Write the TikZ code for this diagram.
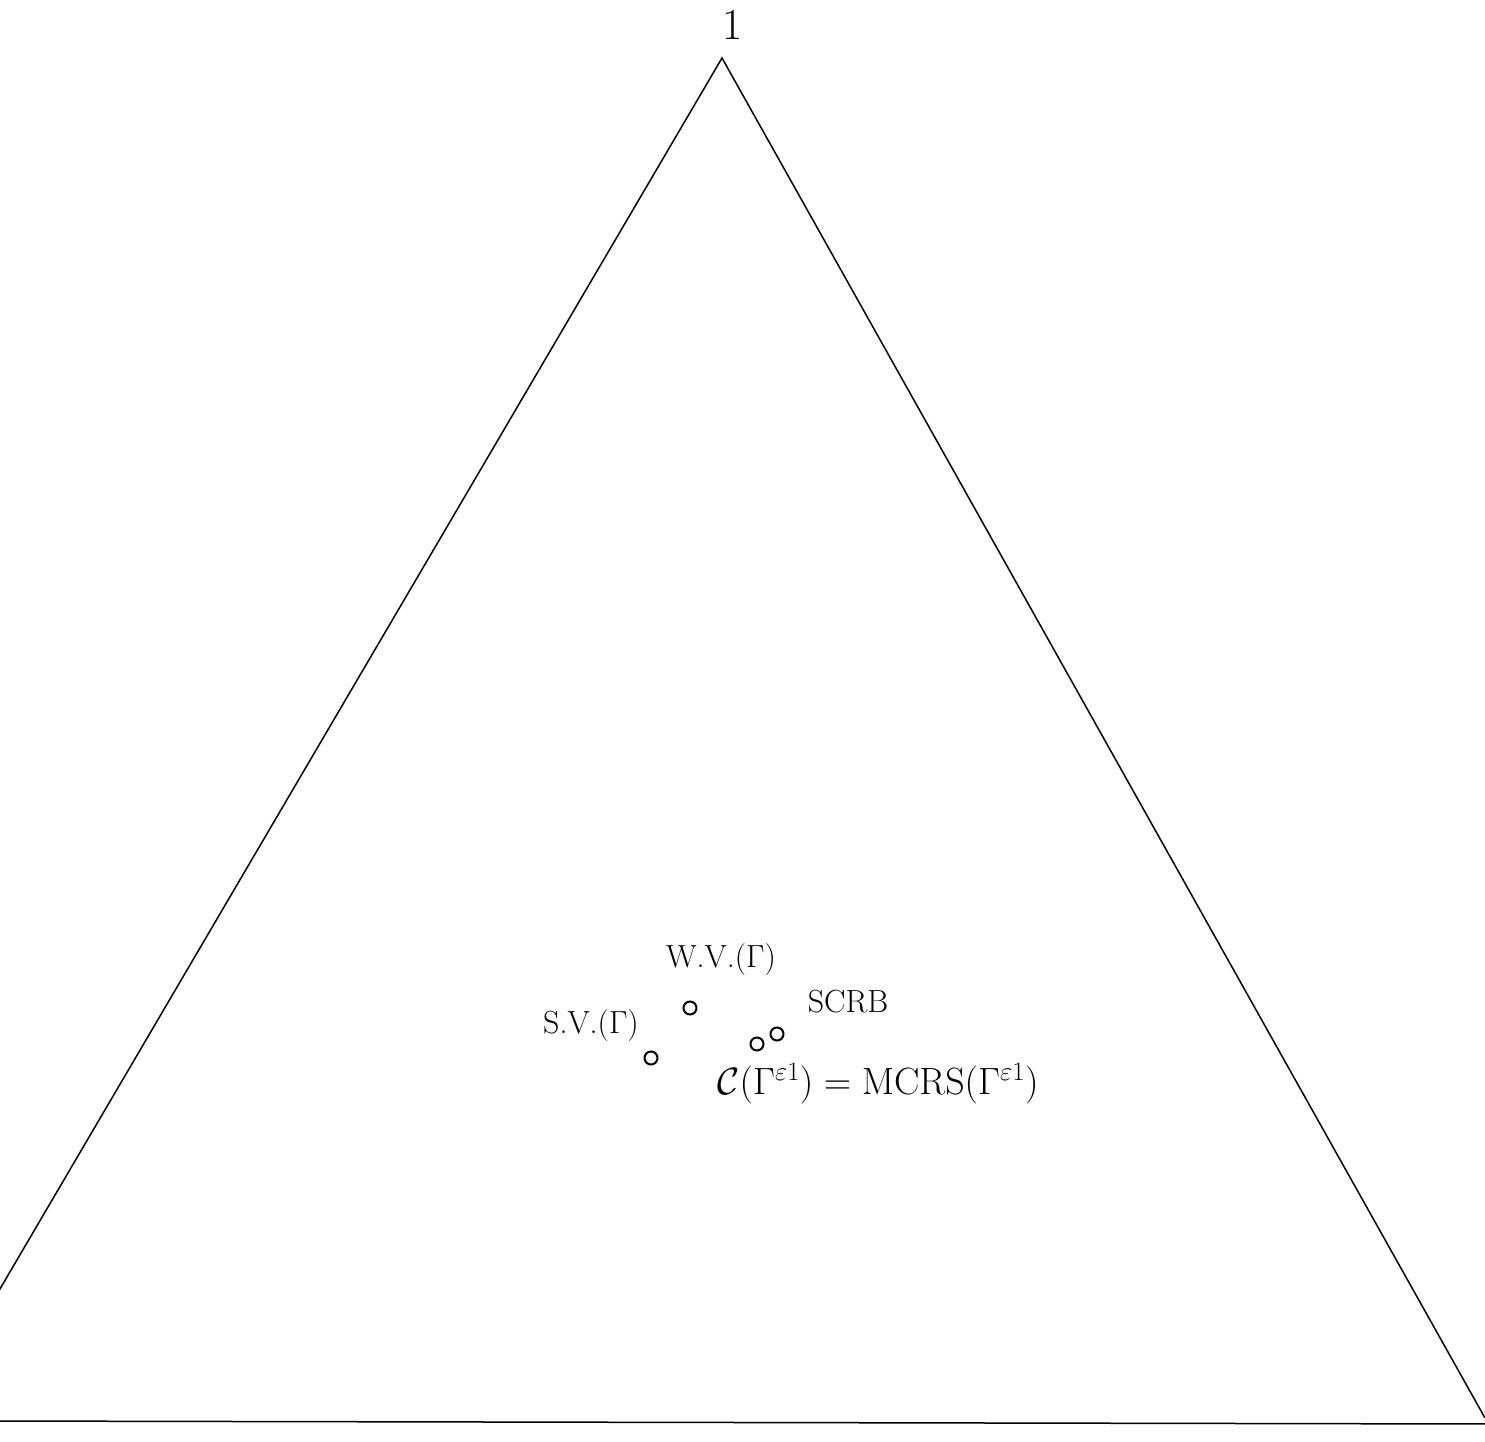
\RequirePackage{fix-cm}
\documentclass[tikz,border=0pt]{standalone}
\usepackage{amsmath}
\begin{document}
\begin{tikzpicture}[x=1pt,y=-1pt,
  edge/.style={line width=1.5pt},
  pt/.style={circle,draw,line width=2pt,minimum size=13pt,inner sep=0pt},
  lab/.style={font=\fontsize{32}{38}\selectfont,inner sep=0pt}]
\useasboundingbox (0,0) rectangle (1485,1442);
\begin{scope}
\clip (0,0) rectangle (1485,1442);
\coordinate (apex) at (722,58);
\coordinate (bl) at (-30,1340);
\coordinate (br) at (1485,1418);
\draw[edge] (bl) -- (apex) -- (br);
\draw[edge] (-10,1421) -- (1495,1424);
\end{scope}
\node[font=\fontsize{44}{48}\selectfont] (one) at (733,25) {1};
\node[pt] (wv) at (690,1008) {};
\node[pt] (sv) at (651,1058) {};
\node[pt] (c1) at (757,1044) {};
\node[pt] (c2) at (777,1034) {};
\node[lab] (wvl) at (721,960) {W.V.($\Gamma$)};
\node[lab] (svl) at (591,1026) {S.V.($\Gamma$)};
\node[lab] (scrb) at (848,1002) {SCRB};
\node[lab,font=\fontsize{38}{44}\selectfont,anchor=base] (mcrs) at (878,1094) {$\mathcal{C}(\Gamma^{\varepsilon 1})=\mathrm{MCRS}(\Gamma^{\varepsilon 1})$};
\end{tikzpicture}
\end{document}
